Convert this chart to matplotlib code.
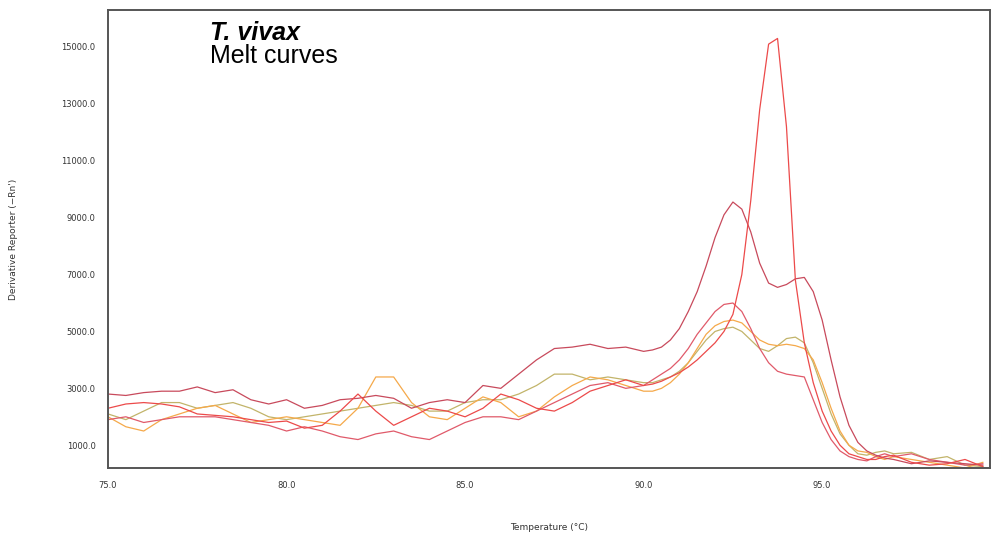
import numpy as np
import matplotlib
matplotlib.use('Agg')
import matplotlib.pyplot as plt

# Temperature grid (finer around the melt peaks)
temp = np.concatenate([np.arange(75, 90, 0.5), np.arange(90, 97, 0.25), np.arange(97, 100, 0.5)])

# Derivative reporter values
well_a = [2800, 2750, 2850, 2900, 2900, 3050, 2850, 2950, 2600, 2450,
          2600, 2300, 2400, 2600, 2650, 2750, 2650, 2300, 2500, 2600,
          2500, 3100, 3000, 3500, 4000, 4400, 4450, 4550, 4400, 4450,
          4300, 4350, 4450, 4700, 5100, 5700, 6400, 7300, 8300, 9100,
          9550, 9300, 8500, 7400, 6700, 6550, 6650, 6850, 6900, 6400,
          5400, 4000, 2700, 1700, 1100, 800, 650, 550,
          500, 350, 450, 400, 350, 300]
well_b = [2300, 2450, 2500, 2450, 2350, 2100, 2050, 2000, 1900, 1800,
          1850, 1600, 1700, 2200, 2800, 2200, 1700, 2000, 2300, 2200,
          2000, 2300, 2800, 2600, 2300, 2200, 2500, 2900, 3100, 3300,
          3100, 3150, 3250, 3400, 3550, 3750, 4000, 4300, 4600, 5000,
          5600, 7000, 9600, 12800, 15100, 15300, 12200, 6800, 4600, 3200,
          2200, 1500, 1000, 700, 600, 500, 500, 600,
          650, 400, 300, 350, 500, 250]
well_c = [1900, 2000, 1800, 1900, 2000, 2000, 2000, 1900, 1800, 1700,
          1500, 1650, 1500, 1300, 1200, 1400, 1500, 1300, 1200, 1500,
          1800, 2000, 2000, 1900, 2200, 2500, 2800, 3100, 3200, 3000,
          3100, 3300, 3500, 3700, 4000, 4400, 4900, 5300, 5700, 5950,
          6000, 5700, 5100, 4400, 3900, 3600, 3500, 3450, 3400, 2600,
          1800, 1200, 800, 600, 500, 450, 600, 700,
          600, 700, 500, 400, 300, 350]
well_d = [2000, 1650, 1500, 1900, 2100, 2300, 2400, 2100, 1800, 1900,
          2000, 1900, 1800, 1700, 2300, 3400, 3400, 2500, 2000, 1900,
          2300, 2700, 2500, 2000, 2200, 2700, 3100, 3400, 3300, 3100,
          2900, 2900, 3000, 3200, 3500, 3900, 4400, 4900, 5200, 5350,
          5400, 5300, 5000, 4700, 4550, 4500, 4550, 4500, 4400, 4000,
          3200, 2300, 1500, 1000, 800, 750, 600, 500,
          600, 500, 400, 300, 200, 400]
well_e = [2100, 1900, 2200, 2500, 2500, 2300, 2400, 2500, 2300, 2000,
          1900, 2000, 2100, 2200, 2300, 2400, 2500, 2400, 2200, 2200,
          2500, 2600, 2600, 2800, 3100, 3500, 3500, 3300, 3400, 3300,
          3200, 3200, 3300, 3400, 3600, 3900, 4300, 4700, 5000, 5100,
          5150, 5000, 4700, 4400, 4300, 4500, 4750, 4800, 4600, 3900,
          3000, 2100, 1400, 1000, 700, 650, 750, 800,
          700, 750, 500, 600, 300, 250]

curves = [well_e, well_d, well_c, well_a, well_b]
colors = ['#c2b46a', '#f5a94a', '#e05a6a', '#c84a5c', '#ec4a4a']

y_ticks = [1000, 3000, 5000, 7000, 9000, 11000, 13000, 15000]
x_ticks = [75, 80, 85, 90, 95]

fig = plt.figure(figsize=(9.92, 5.54), dpi=100)
ax = fig.add_axes([108 / 992, 1 - 468 / 554, 882 / 992, 458 / 554])

for vals, col in zip(curves, colors):
    ax.plot(temp, vals, color=col, linewidth=0.9)

ax.set_xlim(75, 99.7)
ax.set_ylim(200, 16300)
ax.set_xticks(x_ticks)
ax.set_yticks(y_ticks)
ax.set_xticklabels([f'{t:.1f}' for t in x_ticks])
ax.set_yticklabels([f'{v:.1f}' for v in y_ticks])
ax.tick_params(length=0, labelsize=6, colors='#333333', pad=9)

for sp in ax.spines.values():
    sp.set_color('#555555')
    sp.set_linewidth(1.4)

ax.set_xlabel('Temperature (°C)', fontsize=6.5, color='#333333')
ax.set_ylabel("Derivative Reporter (\u2212Rn')", fontsize=6.5, color='#333333')
ax.xaxis.set_label_coords(0.5, -0.12)
ax.yaxis.set_label_coords(-0.102, 0.5)

# Title text inside the plot
ax.text(0.1156, 0.950, 'T. vivax', transform=ax.transAxes, family='Liberation Sans',
        fontsize=18, fontweight='bold', style='italic', va='center', ha='left')
ax.text(0.1156, 0.899, 'Melt curves', transform=ax.transAxes, family='Liberation Sans',
        fontsize=18, va='center', ha='left')

plt.savefig('out.png', dpi=100)
